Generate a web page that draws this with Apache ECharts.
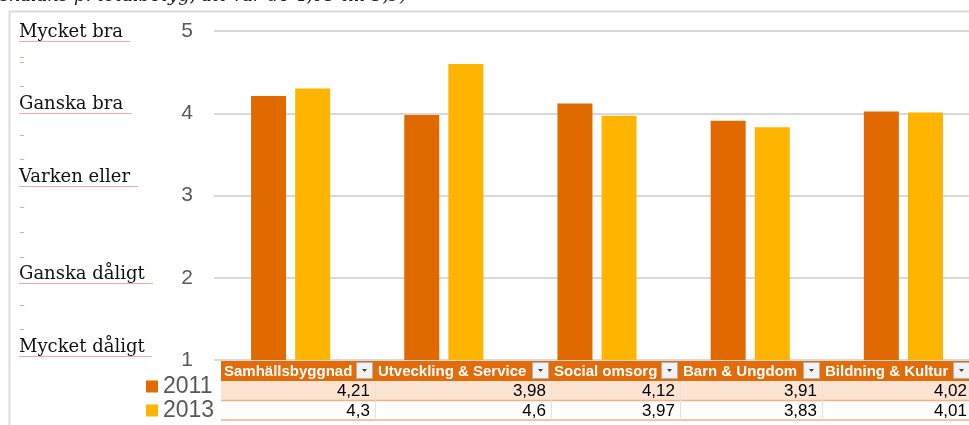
<!DOCTYPE html>
<html>
<head>
<meta charset="utf-8">
<script src="https://cdn.jsdelivr.net/npm/echarts@6/dist/echarts.min.js"></script>
<style>
html, body { margin: 0; padding: 0; background: #fff; }
#chart { width: 969px; height: 425px; }
</style>
</head>
<body>
<div id="chart"></div>
<script>
// data
var categories = ['Samhällsbyggnad', 'Utveckling & Service', 'Social omsorg', 'Barn & Ungdom', 'Bildning & Kultur'];
var years = ['2011', '2013'];
var values2011 = [4.21, 3.98, 4.12, 3.91, 4.02];
var values2013 = [4.3, 4.6, 3.97, 3.83, 4.01];
var scaleLabels = ['Mycket bra', 'Ganska bra', 'Varken eller', 'Ganska dåligt', 'Mycket dåligt'];
var noteText = 'skalans p. totalbetyg, att var de 4,03 till 3,9)';

// layout of the word-document bits round the chart
var labelBaselines = [38, 110, 183, 280, 353];
var underlineEnds = [130, 132, 138, 153, 152];
var dashYs = [57, 62, 86, 135, 159, 207, 232, 257, 305, 329];
var colEdges = [221, 375, 551, 680, 822, 972];
var tableTop = 361, headerH = 20, rowH = 19.5;

var sans = '"Liberation Sans", Arial, sans-serif';
var serif = '"DejaVu Serif", Georgia, serif';
var orange = '#E06A00';
var gold = '#FFB400';

function fmt(v) { return String(v).replace('.', ','); }

var g = [];

// page borders
g.push({ type: 'line', shape: { x1: 9, y1: 11.5, x2: 969, y2: 11.5 }, style: { stroke: '#DCDCDC', lineWidth: 2 } });
g.push({ type: 'line', shape: { x1: 9.5, y1: 11, x2: 9.5, y2: 425 }, style: { stroke: '#DCDCDC', lineWidth: 2 } });

// cut-off note on top
g.push({ type: 'text', x: 0, y: -4, style: { text: noteText, font: 'italic 18px ' + serif, fill: '#222', align: 'left', verticalAlign: 'middle' } });

// scale labels on the left with spell-check underlines
scaleLabels.forEach(function (t, i) {
    g.push({ type: 'text', x: 19, y: labelBaselines[i] - 6, style: { text: t, font: '18px ' + serif, fill: '#111', align: 'left', verticalAlign: 'middle' } });
    g.push({ type: 'line', shape: { x1: 19, y1: labelBaselines[i] + 3.5, x2: underlineEnds[i], y2: labelBaselines[i] + 3.5 }, style: { stroke: '#F7A8A8', lineWidth: 1 } });
});
dashYs.forEach(function (y) {
    g.push({ type: 'line', shape: { x1: 20, y1: y + 0.5, x2: 24, y2: y + 0.5 }, style: { stroke: '#F5A0A0', lineWidth: 1 } });
});

// data table under the plot
var rowsTop = tableTop + headerH;
g.push({ type: 'rect', shape: { x: colEdges[0], y: tableTop, width: colEdges[5] - colEdges[0], height: headerH }, style: { fill: '#E26B0A' } });
g.push({ type: 'rect', shape: { x: colEdges[0], y: rowsTop, width: colEdges[5] - colEdges[0], height: rowH }, style: { fill: '#FDE4D2' } });
g.push({ type: 'line', shape: { x1: colEdges[0], y1: rowsTop + rowH, x2: 969, y2: rowsTop + rowH }, style: { stroke: '#F4B183', lineWidth: 1.5 } });
g.push({ type: 'line', shape: { x1: colEdges[0], y1: rowsTop + 2 * rowH, x2: 969, y2: rowsTop + 2 * rowH }, style: { stroke: '#F4B183', lineWidth: 1.5 } });

categories.forEach(function (c, i) {
    var x0 = colEdges[i], x1 = colEdges[i + 1];
    if (i > 0) {
        g.push({ type: 'line', shape: { x1: x0 + 0.5, y1: rowsTop, x2: x0 + 0.5, y2: rowsTop + 2 * rowH }, style: { stroke: '#E3E3E3', lineWidth: 1 } });
    }
    g.push({ type: 'text', x: x0 + 3, y: tableTop + headerH / 2 + 1, style: { text: c, font: 'bold 15px ' + sans, fill: '#fff', align: 'left', verticalAlign: 'middle' } });
    // filter button
    var bx = x1 - 19;
    g.push({ type: 'rect', shape: { x: bx + 0.5, y: tableTop + 1.5, width: 16, height: 16 }, style: { fill: '#F2F2F2', stroke: '#B0B0B0', lineWidth: 1 } });
    g.push({ type: 'polygon', shape: { points: [[bx + 6, tableTop + 8], [bx + 11, tableTop + 8], [bx + 8.5, tableTop + 11]] }, style: { fill: '#444' } });
    g.push({ type: 'text', x: x1 - 5, y: rowsTop + rowH / 2 + 1, style: { text: fmt(values2011[i]), font: '17px ' + sans, fill: '#000', align: 'right', verticalAlign: 'middle' } });
    g.push({ type: 'text', x: x1 - 5, y: rowsTop + rowH * 1.5 + 1, style: { text: fmt(values2013[i]), font: '17px ' + sans, fill: '#000', align: 'right', verticalAlign: 'middle' } });
});

var chart = echarts.init(document.getElementById('chart'));
var option = {
    animation: false,
    backgroundColor: '#fff',
    grid: { left: 214, top: 31, width: 766, height: 329, outerBoundsMode: 'none' },
    legend: {
        data: years,
        orient: 'vertical',
        left: 146,
        top: 375,
        padding: 0,
        itemGap: 1,
        itemWidth: 12,
        itemHeight: 12,
        icon: 'rect',
        textStyle: { fontSize: 23, lineHeight: 22, color: '#595959', fontFamily: sans }
    },
    xAxis: {
        type: 'category',
        data: categories,
        axisLine: { show: false },
        axisTick: { show: false },
        axisLabel: { show: false }
    },
    yAxis: {
        type: 'value',
        min: 1,
        max: 5,
        interval: 1,
        axisLine: { show: false },
        axisTick: { show: false },
        axisLabel: { fontSize: 21, color: '#595959', fontFamily: sans, margin: 21 },
        splitLine: { lineStyle: { color: '#D9D9D9', width: 2 } }
    },
    series: [
        { name: years[0], type: 'bar', data: values2011, barWidth: 35, barGap: '26%', itemStyle: { color: orange } },
        { name: years[1], type: 'bar', data: values2013, barWidth: 35, itemStyle: { color: gold } }
    ],
    graphic: g
};
chart.setOption(option);
</script>
</body>
</html>
